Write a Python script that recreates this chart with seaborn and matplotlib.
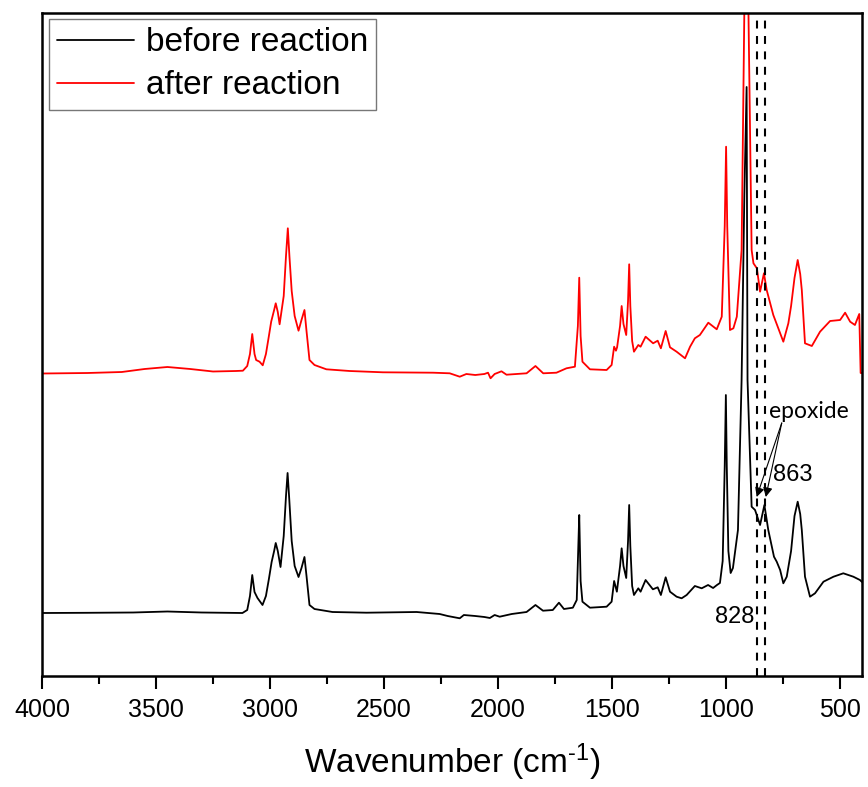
import matplotlib
matplotlib.use("Agg")
import matplotlib.pyplot as plt
import seaborn as sns
import pandas as pd
from matplotlib.ticker import MultipleLocator

# ---- data (intensity in arbitrary units) ----
before_wn = [4000, 3800, 3600, 3450, 3300, 3121, 3100, 3088, 3078, 3068, 3055, 3033, 3018, 3005,
             2993, 2982, 2975, 2966, 2954, 2940, 2930, 2923, 2916, 2905, 2892, 2875, 2862, 2849,
             2840, 2827, 2805, 2726, 2577,
             2357, 2256, 2221, 2168, 2150, 2100, 2060, 2036, 2015, 1993, 1940, 1875, 1836,
             1803, 1760, 1733, 1711, 1672, 1655, 1648, 1644, 1638, 1630, 1597, 1524, 1502, 1491,
             1479, 1465, 1458, 1450, 1438, 1430, 1425, 1420, 1412, 1404, 1385, 1375, 1353, 1321,
             1300, 1286, 1265,
             1246, 1217, 1195, 1173, 1137, 1107, 1079, 1057, 1040, 1027, 1015, 1006, 1001,
             997, 990, 980, 970, 948, 932, 920, 910, 906, 888, 873, 851, 832, 815, 790, 778, 763,
             749, 734, 715, 700, 686, 675, 668, 654, 632, 610, 573, 529, 486, 442, 413, 404]
before_int = [0.63, 0.632, 0.635, 0.645, 0.635, 0.63, 0.66, 0.80, 1.01, 0.84, 0.78, 0.71, 0.80, 0.97,
              1.14, 1.25, 1.33, 1.25, 1.09, 1.40, 1.80, 2.03, 1.78, 1.35, 1.10, 0.99, 1.08, 1.19,
              1.00, 0.71, 0.67, 0.64, 0.633,
              0.64, 0.62, 0.60, 0.577, 0.61, 0.60, 0.59, 0.58, 0.61, 0.593, 0.62, 0.64, 0.71,
              0.653, 0.66, 0.733, 0.67, 0.683, 0.76, 1.30, 1.61, 0.95, 0.743, 0.683, 0.693, 0.743, 0.95,
              0.843, 1.10, 1.277, 1.10, 0.98, 1.35, 1.71, 1.30, 0.90, 0.81, 0.877, 0.843, 0.96, 0.867,
              0.887, 0.81, 0.987,
              0.843, 0.793, 0.777, 0.81, 0.90, 0.877, 0.91, 0.88, 0.91, 0.93, 1.15, 2.1, 2.81,
              2.1, 1.25, 1.03, 1.08, 1.46, 2.96, 4.8, 5.89, 2.96, 1.693, 1.66, 1.51, 1.71, 1.46, 1.193,
              1.143, 1.06, 0.927, 0.993, 1.25, 1.60, 1.743, 1.62, 1.46, 0.993, 0.793, 0.827, 0.943, 0.993,
              1.027, 0.993, 0.96, 0.94]

after_wn = [4000, 3800, 3650, 3550, 3450, 3350, 3250, 3150, 3119, 3100, 3088, 3078, 3068, 3061,
            3046, 3032, 3018, 3005, 2995, 2982, 2975, 2966, 2958, 2940, 2930, 2922, 2915, 2905, 2892,
            2875, 2862, 2849, 2840, 2827, 2805, 2753, 2651,
            2505, 2285, 2212, 2168, 2139, 2100, 2060, 2044, 2033, 2015, 1985, 1963, 1875, 1836,
            1802, 1744, 1700, 1663, 1650, 1644, 1638, 1630, 1597, 1524, 1502, 1491, 1483, 1478, 1465,
            1458, 1450, 1438, 1430, 1425, 1420, 1412, 1404, 1385, 1375, 1353, 1320, 1300, 1286, 1265,
            1246, 1217, 1180, 1158, 1137,
            1115, 1078, 1041, 1019, 1006, 1000, 995, 983, 968, 953, 932, 920, 910, 902, 888, 880,
            865, 851, 834, 822, 793, 771, 749, 727, 715, 700, 686, 675, 668, 654, 624, 588, 544, 500,
            478, 456, 435, 416, 410, 404]
after_int = [3.025, 3.03, 3.04, 3.07, 3.09, 3.07, 3.045, 3.05, 3.053, 3.10, 3.22, 3.42, 3.22, 3.16,
             3.143, 3.107, 3.22, 3.40, 3.543, 3.66, 3.727, 3.64, 3.517, 3.80, 4.20, 4.477, 4.20, 3.85,
             3.60, 3.453, 3.56, 3.66, 3.45, 3.16, 3.11, 3.067, 3.05,
             3.037, 3.033, 3.027, 2.993, 3.02, 3.01, 3.02, 3.033, 2.977, 3.02, 3.047, 3.013, 3.027, 3.10,
             3.027, 3.033, 3.077, 3.093, 3.50, 3.983, 3.40, 3.143, 3.067, 3.06, 3.11, 3.293, 3.253, 3.287,
             3.50, 3.70, 3.52, 3.41, 3.75, 4.117, 3.70, 3.35, 3.243, 3.31, 3.293, 3.393, 3.327, 3.353,
             3.277, 3.45, 3.287, 3.243, 3.177, 3.293, 3.377,
             3.41, 3.533, 3.467, 3.593, 4.5, 5.293, 4.5, 3.46, 3.477, 3.593, 4.26, 6.65, 7.8, 6.65, 4.26,
             4.127, 4.077, 3.843, 4.027, 3.86, 3.61, 3.477, 3.343, 3.527, 3.70, 3.98, 4.16, 4.02, 3.86,
             3.327, 3.30, 3.443, 3.55, 3.56, 3.633, 3.543, 3.51, 3.62, 3.03, 3.03]

series_names = ["before reaction", "after reaction"]
series_colors = ["#000000", "#ff0000"]
marker_wn = [863, 828]
marker_labels = ["863", "828"]
note_text = "epoxide"
x_ticks = [4000, 3500, 3000, 2500, 2000, 1500, 1000, 500]

df = pd.concat([
    pd.DataFrame({"wn": before_wn, "I": before_int, "s": series_names[0]}),
    pd.DataFrame({"wn": after_wn, "I": after_int, "s": series_names[1]}),
])

sns.set_style("white")
plt.rcParams["font.family"] = ["Liberation Sans", "DejaVu Sans"]
plt.rcParams["mathtext.fontset"] = "custom"
plt.rcParams["mathtext.rm"] = "Liberation Sans"
plt.rcParams["mathtext.it"] = "Liberation Sans"
for k in ["text.color", "axes.labelcolor", "xtick.color", "ytick.color"]:
    plt.rcParams[k] = "black"

fig = plt.figure(figsize=(8.68, 7.87), dpi=100)
ax = fig.add_axes([42 / 868, 1 - 676 / 787, 820 / 868, 663 / 787])

sns.lineplot(data=df, x="wn", y="I", hue="s", palette=dict(zip(series_names, series_colors)),
             estimator=None, sort=False, lw=1.3, ax=ax)

ax.set_xlim(4000, 404)
ax.set_ylim(0, 6.63)
ax.set_xticks(x_ticks)
ax.xaxis.set_minor_locator(MultipleLocator(250))
ax.set_yticks([])
ax.set_ylabel("")
ax.set_xlabel("Wavenumber (cm$^{\\text{-}1}$)", fontsize=24, labelpad=14)
ax.tick_params(axis="x", which="major", direction="out", length=9, width=1.5,
               labelsize=18, pad=7, bottom=True, color="black", labelcolor="black")
ax.tick_params(axis="x", which="minor", direction="out", length=5.5, width=1.5, bottom=True,
               color="black")
for sp in ax.spines.values():
    sp.set_linewidth(1.8)
    sp.set_color("black")
    sp.set_visible(True)

for w in marker_wn:
    ax.axvline(w, color="black", lw=1.5, ls=(0, (3.8, 3.6)))

# annotations
ax.text(812, 2.65, note_text, fontsize=16.5, family=["Lato", "DejaVu Sans"], va="center", ha="left",
        color="black")
for tip in [866, 826]:
    ax.annotate("", xy=(tip, 1.79), xytext=(756, 2.53),
                arrowprops=dict(arrowstyle="-|>", color="black", lw=0.8, mutation_scale=14,
                                shrinkA=0, shrinkB=0))
ax.text(794, 2.01, marker_labels[0], fontsize=17, va="center", ha="left", color="black")
ax.text(1049, 0.59, marker_labels[1], fontsize=17, va="center", ha="left", color="black")

leg = ax.legend(loc="upper left", bbox_to_anchor=(7 / 820, 1 - 6 / 663), borderaxespad=0,
                fontsize=24, frameon=True, fancybox=False, handlelength=2.3, handletextpad=0.35,
                borderpad=0.25, labelspacing=0.36)
leg.get_frame().set_edgecolor("#555555")
leg.get_frame().set_linewidth(1.0)
for t in leg.get_texts():
    t.set_color("black")
for l in leg.get_lines():
    l.set_linewidth(1.3)

fig.savefig("out.png", dpi=100)
